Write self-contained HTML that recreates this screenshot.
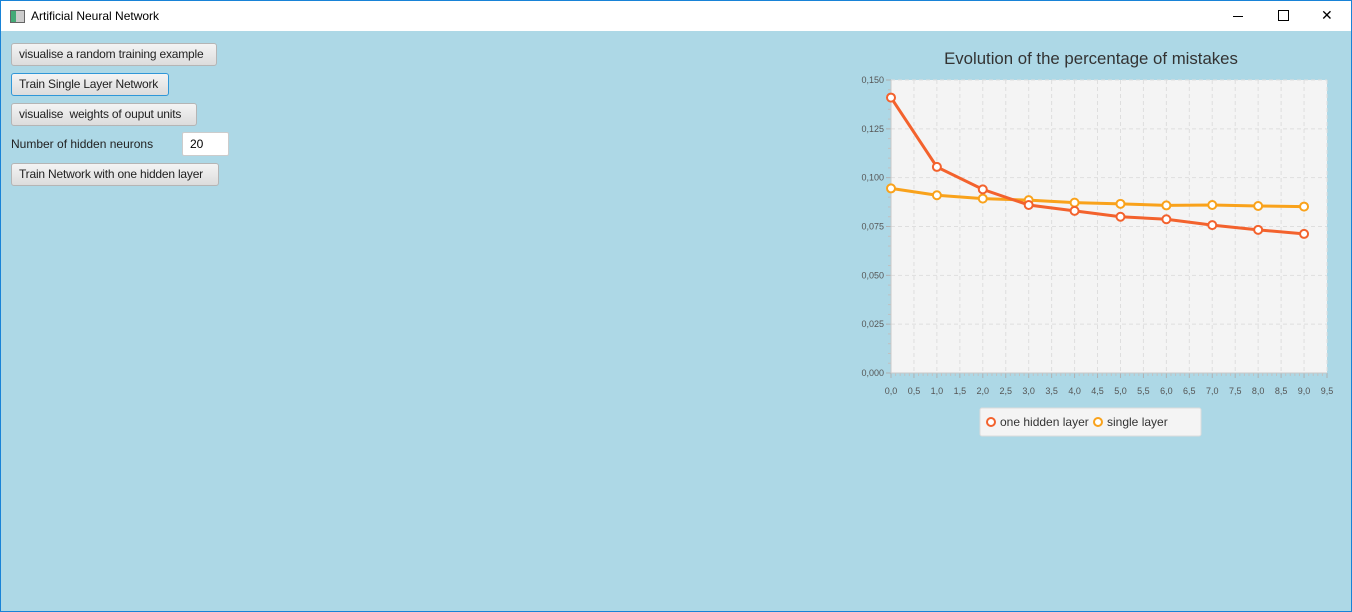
<!DOCTYPE html>
<html><head><meta charset="utf-8"><style>
body{margin:0;width:1352px;height:612px;overflow:hidden;font-family:"Liberation Sans",sans-serif;}
#win{position:absolute;left:0;top:0;width:1350px;height:610px;border:1px solid #1883d7;background:#add8e6;}
#titlebar{position:absolute;left:0;top:0;width:1350px;height:30px;background:#fff;}
.btn{position:absolute;left:10px;height:23px;border:1px solid #b5b5b5;border-radius:3px;background:linear-gradient(#f4f4f4,#dcdcdc);font-size:12px;line-height:21px;padding:0 7px;color:#222;box-sizing:border-box;white-space:nowrap;overflow:hidden;letter-spacing:-0.2px;}
</style></head><body>
<div id="win">
<div id="titlebar">
<div style="position:absolute;left:9px;top:9px;width:13px;height:11px;border:1px solid #666;background:linear-gradient(90deg,#4a7 0 40%,#ccc 40%);"></div>
<div style="position:absolute;left:30px;top:8px;font-size:12px;color:#000;">Artificial Neural Network</div>
<div style="position:absolute;left:1232px;top:15px;width:10px;height:1px;background:#000;"></div>
<div style="position:absolute;left:1277px;top:9px;width:9px;height:9px;border:1px solid #000;"></div>
<div style="position:absolute;left:1320px;top:6px;font-size:14px;">✕</div>
</div>
<div class="btn" style="top:42px;width:206px;">visualise a random training example</div>
<div class="btn" style="top:72px;width:158px;border-color:#2f97d8;">Train Single Layer Network</div>
<div class="btn" style="top:102px;width:186px;">visualise&nbsp; weights of ouput units</div>
<div style="position:absolute;left:10px;top:136px;font-size:12px;color:#222;">Number of hidden neurons</div>
<div style="position:absolute;left:181px;top:131px;width:47px;height:24px;box-sizing:border-box;background:#fff;border:1px solid #ccc;border-radius:2px;font-size:12px;line-height:22px;padding-left:7px;">20</div>
<div class="btn" style="top:162px;width:208px;">Train Network with one hidden layer</div>
</div>
<svg id="chart" width="1352" height="612" style="position:absolute;left:0;top:0"></svg>
<script>
const xTicks=["0,0","0,5","1,0","1,5","2,0","2,5","3,0","3,5","4,0","4,5","5,0","5,5","6,0","6,5","7,0","7,5","8,0","8,5","9,0","9,5"];
const yTicks=["0,000","0,025","0,050","0,075","0,100","0,125","0,150"];
const epochs=[0,1,2,3,4,5,6,7,8,9];
const hiddenLayer=[0.141,0.1055,0.094,0.086,0.083,0.080,0.0787,0.0757,0.0733,0.0712];
const singleLayer=[0.0945,0.091,0.0893,0.0885,0.0872,0.0866,0.0858,0.086,0.0855,0.0852];
const svg=document.getElementById('chart');const NS='http://www.w3.org/2000/svg';
const L=891,R=1327,T=80,B=373;
const X=v=>L+(R-L)*v/9.5, Y=v=>B-(B-T)*v/0.15;
function mk(t,a,p){const e=document.createElementNS(NS,t);for(const k in a)e.setAttribute(k,a[k]);(p||svg).appendChild(e);return e;}
let bg=mk('rect',{x:L,y:T,width:R-L,height:B-T,fill:'#f4f4f4'});


for(let i=0;i<xTicks.length;i++){const x=X(i*0.5);
 if(i>0)mk('line',{x1:x,y1:T,x2:x,y2:B,stroke:'#dedede','stroke-dasharray':'4 3'});
 mk('line',{x1:x,y1:B,x2:x,y2:B+5,stroke:'#b0b0b0'});
 const t=mk('text',{x:x,y:B+21,'font-size':9,fill:'#555','text-anchor':'middle'});t.textContent=xTicks[i];
 
 }
for(let j=0;j<95;j++){if(j%5)mk('line',{x1:X(j*0.1),y1:B,x2:X(j*0.1),y2:B+3,stroke:'#c0c0c0'});}
for(let i=0;i<yTicks.length;i++){const y=Y(i*0.025);
 if(i>0)mk('line',{x1:L,y1:y,x2:R,y2:y,stroke:'#dedede','stroke-dasharray':'4 3'});
 mk('line',{x1:L-5,y1:y,x2:L,y2:y,stroke:'#b0b0b0'});
 const t=mk('text',{x:L-7,y:y+3,'font-size':9,fill:'#555','text-anchor':'end'});t.textContent=yTicks[i];
 
 }
for(let j=0;j<30;j++){if(j%5)mk('line',{x1:L-3,y1:Y(j*0.005),x2:L,y2:Y(j*0.005),stroke:'#c0c0c0'});}
mk('line',{x1:L,y1:T,x2:L,y2:B,stroke:'#c8c8c8'});mk('line',{x1:L,y1:B,x2:R,y2:B,stroke:'#c8c8c8'});
function series(vals,col,name){
 const p=mk('polyline',{points:vals.map((v,i)=>X(epochs[i])+','+Y(v)).join(' '),fill:'none',stroke:col,'stroke-width':3});
 
 
 vals.forEach((v,i)=>{const c=mk('circle',{cx:X(epochs[i]),cy:Y(v),r:4,fill:'#fff',stroke:col,'stroke-width':2});
 
 });}
series(singleLayer,'#f9a21b','single-layer');
series(hiddenLayer,'#f3622d','one-hidden-layer');
const title=mk('text',{x:1091,y:64,'font-size':16.8,fill:'#333','text-anchor':'middle'});title.textContent='Evolution of the percentage of mistakes';


const lg=mk('rect',{x:980,y:408,width:221,height:28,rx:2,fill:'#f4f4f4',stroke:'#dcdcdc'});


[['one hidden layer','#f3622d',991],['single layer','#f9a21b',1098]].forEach(([n,c,x])=>{
 mk('circle',{cx:x,cy:422,r:4,fill:'#fff',stroke:c,'stroke-width':2});
 const t=mk('text',{x:x+9,y:426,'font-size':12,fill:'#333'});t.textContent=n;
 
 });
</script>
</body></html>
